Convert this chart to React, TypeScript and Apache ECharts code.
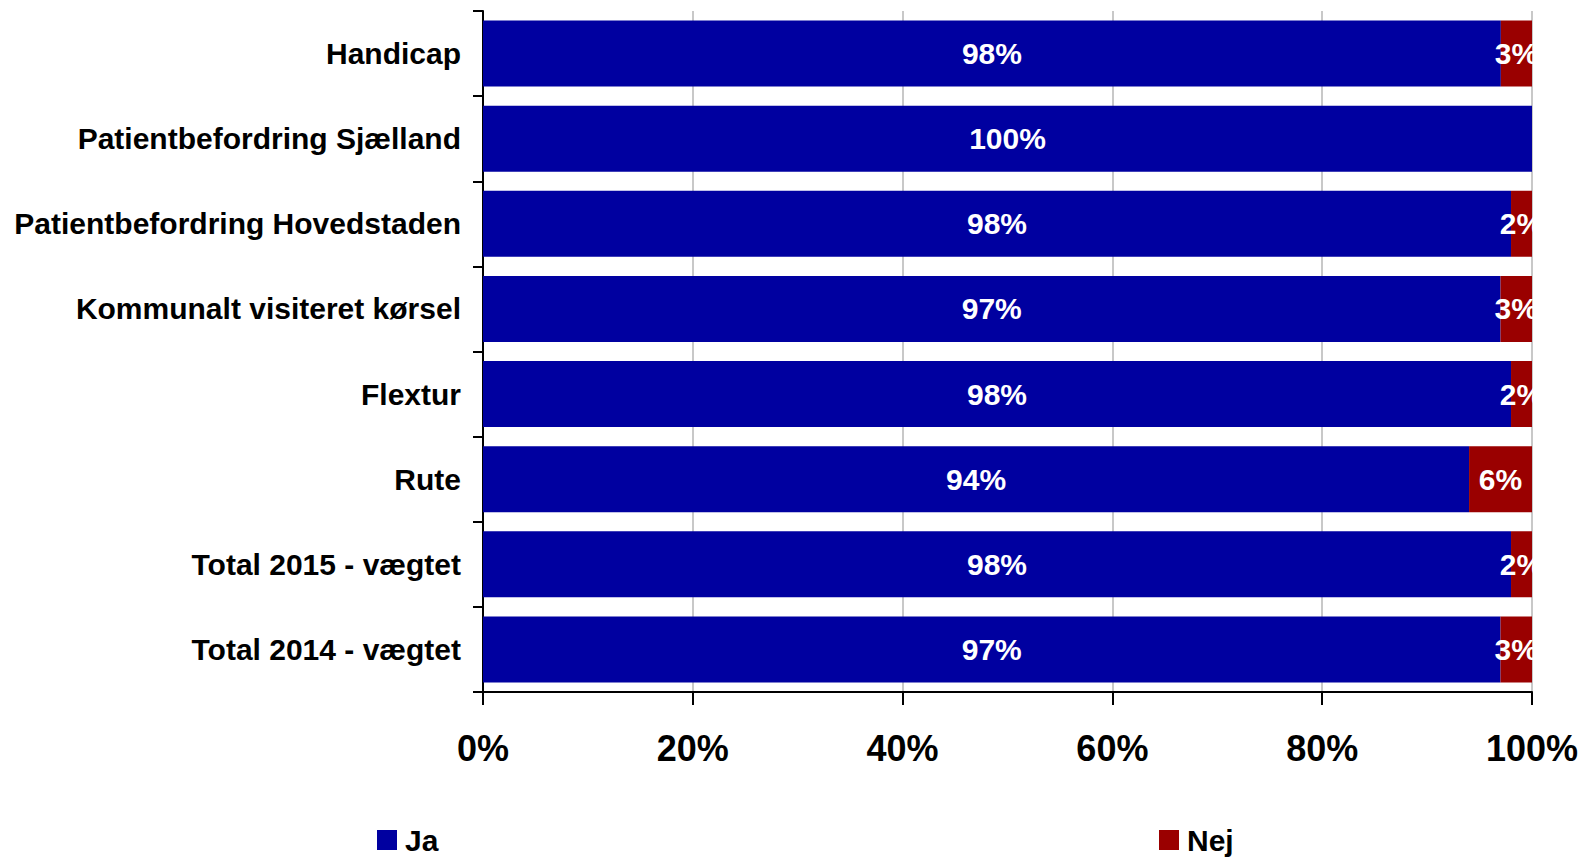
import React, { useEffect, useRef } from "react";
import * as echarts from "echarts";

const categories = [
  "Handicap",
  "Patientbefordring Sjælland",
  "Patientbefordring Hovedstaden",
  "Kommunalt visiteret kørsel",
  "Flextur",
  "Rute",
  "Total 2015 - vægtet",
  "Total 2014 - vægtet",
];
const jaValues = [98, 100, 98, 97, 98, 94, 98, 97];
const nejValues = [3, 0, 2, 3, 2, 6, 2, 3];
const xTicks = [0, 20, 40, 60, 80, 100];

const FONT = '"Liberation Sans", Arial, Helvetica, sans-serif';
const BLUE = "#0000A0";
const RED = "#9A0000";

export default function App() {
  const ref = useRef<HTMLDivElement>(null);
  useEffect(() => {
    if (!ref.current) return;
    const chart = echarts.init(ref.current, undefined, { renderer: "svg" });
    const totals = jaValues.map((v, i) => v + nejValues[i]);
    const jaData = jaValues.map((v, i) => ({ value: (v / totals[i]) * 100, raw: v }));
    const nejData = nejValues.map((v, i) => ({ value: (v / totals[i]) * 100, raw: v }));
    const labelCfg = {
      show: true,
      position: "inside",
      color: "#fff",
      fontFamily: FONT,
      fontWeight: "bold",
      fontSize: 30,
      formatter: (p: any) => (p.data.raw > 0 ? p.data.raw + "%" : ""),
    };
    const legendText = {
      fontSize: 30,
      lineHeight: 32,
      fontWeight: "bold",
      color: "#000",
      fontFamily: FONT,
      padding: [0, 0, 0, 3],
    };
    chart.setOption({
      animation: false,
      textStyle: { fontFamily: FONT },
      grid: { left: 483, right: 55, top: 11, bottom: 167, containLabel: false },
      legend: [
        {
          data: ["Ja"],
          left: 375,
          top: 822,
          padding: 2,
          icon: "rect",
          itemWidth: 20,
          itemHeight: 20,
          textStyle: legendText,
        },
        {
          data: ["Nej"],
          left: 1157,
          top: 822,
          padding: 2,
          icon: "rect",
          itemWidth: 20,
          itemHeight: 20,
          textStyle: legendText,
        },
      ],
      xAxis: {
        type: "value",
        min: 0,
        max: 100,
        interval: 20,
        axisLine: { show: true, lineStyle: { color: "#000", width: 2 } },
        axisTick: { show: true, length: 13, lineStyle: { color: "#000", width: 2 } },
        splitLine: { show: true, lineStyle: { color: "#c8c8c8", width: 2 } },
        axisLabel: {
          margin: 38,
          fontSize: 36,
          fontWeight: "bold",
          color: "#000",
          fontFamily: FONT,
          formatter: (v: number) => (xTicks.includes(v) ? v + "%" : ""),
        },
      },
      yAxis: {
        type: "category",
        inverse: true,
        data: categories,
        axisLine: { show: true, lineStyle: { color: "#000", width: 2 } },
        axisTick: { show: true, length: 10, lineStyle: { color: "#000", width: 2 } },
        axisLabel: {
          margin: 22,
          fontSize: 30,
          fontWeight: "bold",
          color: "#000",
          fontFamily: FONT,
        },
      },
      series: [
        {
          name: "Ja",
          type: "bar",
          stack: "total",
          barCategoryGap: "22.5%",
          itemStyle: { color: BLUE },
          label: labelCfg,
          data: jaData,
        },
        {
          name: "Nej",
          type: "bar",
          stack: "total",
          barCategoryGap: "22.5%",
          itemStyle: { color: RED },
          label: labelCfg,
          labelLayout: { hideOverlap: false },
          data: nejData,
        },
      ],
    });
    return () => chart.dispose();
  }, []);
  return (
    <div
      ref={ref}
      style={{ position: "fixed", left: 0, top: 0, width: 1587, height: 859, background: "#fff" }}
    />
  );
}
